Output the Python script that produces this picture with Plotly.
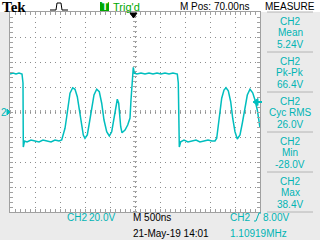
import plotly.graph_objects as go

# ---------------- data ----------------
# time in microseconds (500 ns/div, 10 div), voltage in volts (20 V/div)
t_us = [-2.5, -2.44, -2.38, -2.32, -2.26, -2.24, -2.234, -2.21,
        -2.16, -2.08, -2.0, -1.92, -1.84, -1.76, -1.68, -1.6, -1.52, -1.466,
        -1.434, -1.40, -1.366, -1.334, -1.30, -1.246, -1.20, -1.154, -1.114, -1.08,
        -1.034, -1.00, -0.954, -0.914, -0.866, -0.82, -0.766, -0.714, -0.666, -0.62,
        -0.566, -0.514, -0.466, -0.42, -0.38, -0.354, -0.326, -0.314, -0.286, -0.26,
        -0.20, -0.146, -0.10, -0.08, -0.06, -0.046, -0.034, -0.014,
        0.04, 0.12, 0.20, 0.28, 0.36, 0.44, 0.52, 0.60, 0.68, 0.76, 0.846,
        0.866, 0.886, 0.914,
        0.98, 1.06, 1.14, 1.22, 1.30, 1.38, 1.46, 1.54, 1.60,
        1.634, 1.666, 1.70, 1.734, 1.78, 1.82, 1.866, 1.914, 1.954, 2.0,
        2.046, 2.10, 2.146, 2.20, 2.246, 2.30, 2.354, 2.40, 2.446, 2.486, 2.50]
v_volts = [30.4, 31.2, 30.4, 31.2, 30.4, 23.2, -28.0, -23.2,
           -24.0, -22.4, -23.2, -24.0, -22.4, -23.2, -24.0, -22.4, -23.2, -22.4,
           -18.4, -13.0, -3.8, 7.0, 15.0, 19.4, 18.2, 12.2, 1.6, -9.0,
           -18.4, -21.0, -18.4, -9.0, 4.2, 13.6, 18.2, 16.2, 7.0, -6.4,
           -15.8, -19.2, -15.8, -5.0, 5.6, 10.2, 7.0, -1.0, -11.8, -16.6,
           -14.4, -10.4, -4.8, 9.6, 23.2, 28.2, 35.8, 31.0,
           30.4, 31.2, 30.4, 31.2, 30.4, 31.2, 30.4, 31.2, 30.4, 31.2, 30.4,
           23.2, -28.0, -23.8,
           -22.4, -24.0, -23.2, -22.4, -24.0, -23.2, -22.4, -23.2, -23.2,
           -21.0, -11.8, 0.2, 11.0, 17.6, 19.4, 17.0, 8.2, -5.0, -15.8,
           -21.6, -18.4, -9.0, 4.2, 13.6, 18.2, 15.4, 9.6, 1.6, -9.0, -12.8]

meas_channel = ["CH2", "CH2", "CH2", "CH2", "CH2"]
meas_labels = ["Mean", "Pk-Pk", "Cyc RMS", "Min", "Max"]
meas_values = ["5.24V", "66.4V", "26.0V", "-28.0V", "38.4V"]

volts_per_div = 20.0
us_per_div = 0.5
trigger_level = 8.0
ch_scale_text = ["CH2", "20.0V"]
timebase_text = "M 500ns"
trig_text = ["CH2", "8.00V"]
date_text = "21-May-19 14:01"
freq_text = "1.10919MHz"
mpos_text = "M Pos: 70.00ns"

# ---------------- styling ----------------
W, H = 320, 240
CYAN = "#00BEBE"
CYAN_T = "#00B4B4"
GRID = "#8c8c8c"
BORDER = "#a0a0a0"
FONT = "Liberation Sans, Arial, sans-serif"


def px(x):
    return x / W


def py(y):
    return 1 - y / H


fig = go.Figure()
fig.add_trace(go.Scatter(x=t_us, y=v_volts, mode="lines",
                         line=dict(color=CYAN, width=1.5), hoverinfo="skip"))

axis_common = dict(showgrid=True, gridcolor=GRID, griddash="1px,4px", gridwidth=1,
                   zeroline=False, showline=True, linecolor=BORDER, linewidth=1,
                   mirror="ticks", ticks="inside", ticklen=3, tickcolor=BORDER,
                   tickwidth=1, showticklabels=False, fixedrange=True)

fig.update_layout(
    width=W, height=H, margin=dict(l=0, r=0, t=0, b=0),
    paper_bgcolor="#ebebeb", plot_bgcolor="white", showlegend=False,
    xaxis=dict(domain=[px(10), px(260)], range=[-5 * us_per_div, 5 * us_per_div],
               dtick=us_per_div, minor=dict(dtick=us_per_div / 5, ticks="inside",
                                            ticklen=3, tickcolor=BORDER, showgrid=False),
               **axis_common),
    yaxis=dict(domain=[py(212), py(12)], range=[-4 * volts_per_div, 4 * volts_per_div],
               dtick=volts_per_div, minor=dict(dtick=volts_per_div / 5, ticks="inside",
                                               ticklen=3, tickcolor=BORDER, showgrid=False),
               **axis_common),
)

shapes = []
# white header band
shapes.append(dict(type="rect", xref="paper", yref="paper", x0=0, x1=1, y0=py(12), y1=1,
                   fillcolor="white", line=dict(width=0), layer="below"))
# center cross tick lines
shapes.append(dict(type="line", xref="x", yref="paper", x0=0, x1=0, y0=py(212), y1=py(12),
                   line=dict(color="#a8a8a8", width=4, dash="1px,4px"), layer="below"))
shapes.append(dict(type="line", xref="paper", yref="y", x0=px(10), x1=px(260), y0=0, y1=0,
                   line=dict(color="#a8a8a8", width=4, dash="1px,4px"), layer="below"))
# measurement separators
for k in range(6):
    yy = 12 + 40 * k
    shapes.append(dict(type="line", xref="paper", yref="paper", x0=px(267), x1=px(313),
                       y0=py(yy), y1=py(yy), line=dict(color="#b4b4b4", width=1)))
# acquisition icon (pulse)
shapes.append(dict(type="path", xref="paper", yref="paper",
                   path=f"M {px(50)},{py(10)} L {px(56)},{py(10)} L {px(57)},{py(3)} "
                        f"L {px(61)},{py(3)} L {px(62)},{py(10)} L {px(68)},{py(10)}",
                   line=dict(color="black", width=1)))
# trigger T box
shapes.append(dict(type="rect", xref="paper", yref="paper", x0=px(100), x1=px(109),
                   y0=py(11), y1=py(2), fillcolor="#00a800", line=dict(width=0)))
# trigger position marker (top)
shapes.append(dict(type="path", xref="paper", yref="paper",
                   path=f"M {px(130)},{py(13)} L {px(137)},{py(13)} L {px(133.5)},{py(18)} Z",
                   fillcolor="black", line=dict(color="black", width=1)))
# trigger level marker (right)
shapes.append(dict(type="path", xref="paper", yref="y",
                   path=f"M {px(253)},{trigger_level} L {px(258)},{trigger_level + 2.8} "
                        f"L {px(258)},{trigger_level - 2.8} Z",
                   fillcolor=CYAN, line=dict(color=CYAN, width=1)))
shapes.append(dict(type="line", xref="paper", yref="y", x0=px(256), x1=px(262),
                   y0=trigger_level, y1=trigger_level, line=dict(color=CYAN, width=2)))
# ground marker (left)
shapes.append(dict(type="path", xref="paper", yref="y",
                   path=f"M {px(10)},0 L {px(7)},2.4 L {px(7)},-2.4 Z",
                   fillcolor=CYAN, line=dict(color=CYAN, width=1)))
# trigger slope symbol (bottom)
shapes.append(dict(type="path", xref="paper", yref="paper",
                   path=f"M {px(254)},{py(221)} L {px(256)},{py(221)} L {px(259)},{py(213)} L {px(261)},{py(213)}",
                   line=dict(color=CYAN_T, width=1)))
fig.update_layout(shapes=shapes)

ann = []


def text(x, y, s, color="black", size=10, anchor="left", family=FONT):
    ann.append(dict(x=px(x), y=py(y), xref="paper", yref="paper", text=s, showarrow=False,
                    xanchor=anchor, yanchor="middle", borderpad=0,
                    font=dict(color=color, size=size, family=family)))


text(1, 6.5, "<b>Tek</b>", size=15, family="Liberation Serif, Times New Roman, serif")
text(104.5, 6.5, "<b>T</b>", color="white", size=10, anchor="center")
text(112, 6.5, "Trig'd", color="#00a800", size=11)
text(179, 6.5, mpos_text, size=10)
text(290, 6.5, "MEASURE", size=10, anchor="center")
for i, (c, lab, val) in enumerate(zip(meas_channel, meas_labels, meas_values)):
    y0 = 12 + 40 * i
    text(290, y0 + 9, c, color=CYAN_T, anchor="center")
    text(290, y0 + 20.5, lab, color=CYAN_T, anchor="center")
    text(290, y0 + 32, val, color=CYAN_T, anchor="center")
text(3.5, 112, "2", color=CYAN_T, size=10, anchor="center")
text(66, 217.5, ch_scale_text[0], color=CYAN_T)
text(88, 217.5, ch_scale_text[1], color=CYAN_T)
text(132, 217.5, timebase_text)
text(229, 217.5, trig_text[0], color=CYAN_T)
text(262, 217.5, trig_text[1], color=CYAN_T)
text(132, 233, date_text)
text(229, 233, freq_text, color=CYAN_T)
fig.update_layout(annotations=ann)

fig.write_html("out.html")
